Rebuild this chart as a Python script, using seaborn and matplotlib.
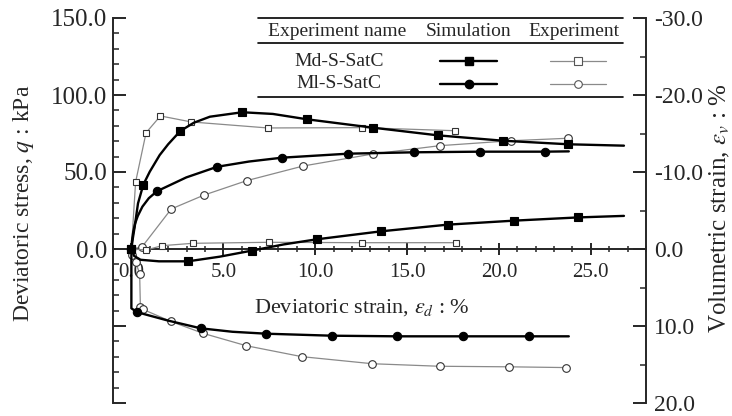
import matplotlib
matplotlib.use("Agg")
import matplotlib.pyplot as plt
from matplotlib.lines import Line2D
from matplotlib.ticker import MultipleLocator, FuncFormatter
import pandas as pd
import seaborn as sns

# ---------------- data ----------------
# Md-S-SatC, simulation: deviatoric stress q (kPa) vs deviatoric strain (%)
md_sim_q_x = [0.0, 0.08, 0.18, 0.36, 0.65, 1.0, 1.54, 2.0, 2.66, 3.4, 4.27, 6.03, 7.7, 9.57,
              13.13, 16.68, 20.23, 23.78, 26.8]
md_sim_q = [0.0, 7.0, 14.5, 29.6, 41.8, 50.2, 61.0, 68.0, 76.6, 82.0, 85.9, 88.8, 87.7, 84.2,
            78.8, 73.8, 70.3, 68.0, 67.1]
md_sim_q_marks = [0, 4, 8, 11, 13, 14, 15, 16, 17]

# Ml-S-SatC, simulation: deviatoric stress
ml_sim_q_x = [0.0, 0.03, 0.1, 0.2, 0.35, 0.6, 0.95, 1.39, 2.99, 4.67, 6.4, 8.2, 11.8, 15.4,
              18.97, 22.5, 23.8]
ml_sim_q = [0.0, 5.0, 11.0, 16.5, 21.5, 27.5, 33.0, 37.5, 46.5, 53.4, 56.8, 59.3, 61.9, 62.8,
            63.2, 63.2, 63.4]
ml_sim_q_marks = [0, 7, 9, 11, 12, 13, 14, 15]

# Md-S-SatC, simulation: volumetric strain (%)
md_sim_v_x = [0.0, 0.15, 0.5, 1.5, 3.08, 4.8, 6.58, 8.3, 10.09, 13.6, 17.2, 20.8, 24.3, 26.8]
md_sim_v = [0.0, 0.9, 1.4, 1.6, 1.6, 1.0, 0.2, -0.6, -1.26, -2.3, -3.16, -3.68, -4.1, -4.3]
md_sim_v_marks = [0, 4, 6, 8, 9, 10, 11, 12]

# Ml-S-SatC, simulation: volumetric strain
ml_sim_v_x = [0.0, 0.0, 0.3, 2.0, 3.77, 5.5, 7.34, 10.9, 14.47, 18.04, 21.63, 23.8]
ml_sim_v = [0.0, 7.7, 8.2, 9.3, 10.3, 10.75, 11.0, 11.26, 11.34, 11.34, 11.34, 11.34]
ml_sim_v_marks = [2, 4, 6, 7, 8, 9, 10]

# Md-S-SatC, experiment
md_exp_q_x = [0.0, 0.23, 0.8, 1.58, 3.26, 7.42, 12.55, 17.63]
md_exp_q = [0.0, 43.5, 75.5, 86.4, 82.5, 78.6, 78.8, 76.8]
md_exp_v_x = [0.0, 0.81, 1.66, 3.35, 7.48, 12.55, 17.66]
md_exp_v = [0.0, 0.13, -0.43, -0.74, -0.87, -0.82, -0.82]

# Ml-S-SatC, experiment
ml_exp_q_x = [0.0, 0.58, 2.17, 3.95, 6.28, 9.35, 13.13, 16.79, 20.65, 23.73]
ml_exp_q = [0.0, 1.4, 26.0, 35.0, 44.4, 53.9, 61.7, 67.1, 70.3, 71.9]
ml_exp_v_x = [0.0, 0.05, 0.23, 0.45, 0.49, 0.63, 2.14, 3.91, 6.25, 9.27, 13.11, 16.77, 20.54, 23.64]
ml_exp_v = [0.0, 0.78, 1.7, 3.2, 7.5, 7.84, 9.4, 10.96, 12.56, 13.98, 14.9, 15.23, 15.3, 15.4]

specimens = ["Md-S-SatC", "Ml-S-SatC"]
table_header = ["Experiment name", "Simulation", "Experiment"]

# ---------------- style ----------------
sns.set_style("ticks")
plt.rcParams["font.family"] = ["Liberation Serif", "DejaVu Serif"]
plt.rcParams["mathtext.fontset"] = "stix"

W, H = 732, 416
fig = plt.figure(figsize=(W / 100, H / 100), dpi=100)
fig.patch.set_facecolor("white")


def px(x, y):
    return x / W, 1 - y / H


x0, y0 = px(113, 403)
x1, y1 = px(646, 18)
ax = fig.add_axes([x0, y0, x1 - x0, y1 - y0])
ax2 = ax.twinx()
ax.set_facecolor("none")

SIM = dict(color="black", lw=1.7, sort=False, estimator=None,
           markeredgecolor="black", markeredgewidth=0.8, zorder=4)
EXP = dict(color="#8a8a8a", lw=0.9, sort=False, estimator=None,
           markerfacecolor="white", markeredgecolor="#333333",
           markeredgewidth=0.8, zorder=3)


def frame(x, y):
    return pd.DataFrame({"x": x, "y": y})


# experiments (thin grey lines, open markers)
sns.lineplot(data=frame(md_exp_q_x, md_exp_q), x="x", y="y", ax=ax, marker="s",
             markersize=5, markevery=list(range(1, len(md_exp_q))), **EXP)
sns.lineplot(data=frame(ml_exp_q_x, ml_exp_q), x="x", y="y", ax=ax, marker="o",
             markersize=5.5, markevery=list(range(1, len(ml_exp_q))), **EXP)
sns.lineplot(data=frame(md_exp_v_x, md_exp_v), x="x", y="y", ax=ax2, marker="s",
             markersize=5, markevery=list(range(1, len(md_exp_v))), **EXP)
sns.lineplot(data=frame(ml_exp_v_x, ml_exp_v), x="x", y="y", ax=ax2, marker="o",
             markersize=5.5, markevery=list(range(1, len(ml_exp_v))), **EXP)

# simulations (thick black lines, filled markers)
sns.lineplot(data=frame(md_sim_q_x, md_sim_q), x="x", y="y", ax=ax, marker="s",
             markersize=5.5, markevery=md_sim_q_marks, **SIM)
sns.lineplot(data=frame(ml_sim_q_x, ml_sim_q), x="x", y="y", ax=ax, marker="o",
             markersize=6, markevery=ml_sim_q_marks, **SIM)
sns.lineplot(data=frame(md_sim_v_x, md_sim_v), x="x", y="y", ax=ax2, marker="s",
             markersize=5.5, markevery=md_sim_v_marks, **SIM)
sns.lineplot(data=frame(ml_sim_v_x, ml_sim_v), x="x", y="y", ax=ax2, marker="o",
             markersize=6, markevery=ml_sim_v_marks, **SIM)

# ---------------- axes ----------------
ax.set_xlim(-1, 28)
ax.set_ylim(-100, 150)
ax2.set_ylim(20, -30)

SW = 1.4
for s in ("top", "right"):
    ax.spines[s].set_visible(False)
ax.spines["bottom"].set_position(("data", 0))
ax.spines["left"].set_linewidth(SW)
ax.spines["bottom"].set_linewidth(SW)
for s in ("top", "left", "bottom"):
    ax2.spines[s].set_visible(False)
ax2.spines["right"].set_linewidth(SW)

ax.xaxis.set_major_locator(MultipleLocator(5))
ax.xaxis.set_minor_locator(MultipleLocator(1))
ax.xaxis.set_major_formatter(FuncFormatter(lambda v, p: f"{v:.1f}"))
ax.yaxis.set_major_locator(MultipleLocator(50))
ax.yaxis.set_minor_locator(MultipleLocator(10))
ax.yaxis.set_major_formatter(FuncFormatter(lambda v, p: f"{v:.1f}" if v >= 0 else ""))
ax2.yaxis.set_major_locator(MultipleLocator(10))
ax2.yaxis.set_minor_locator(MultipleLocator(5))
ax2.yaxis.set_major_formatter(FuncFormatter(lambda v, p: f"{v + 0.0:.1f}"))

ax.tick_params(axis="x", which="major", direction="inout", length=9, width=SW,
               labelsize=15, pad=5.5)
ax.tick_params(axis="x", which="minor", direction="inout", length=5, width=1.1)
ax.tick_params(axis="y", which="major", direction="in", length=9.5, width=SW,
               labelsize=18, pad=4)
ax.tick_params(axis="y", which="minor", direction="in", length=4.5, width=1.1)
ax2.tick_params(axis="y", which="major", direction="in", length=9.5, width=SW,
                labelsize=17, pad=6)
ax2.tick_params(axis="y", which="minor", direction="in", length=4.5, width=1.1)

ax.set_xlabel(r"Deviatoric strain, $\varepsilon_d$ : %", fontsize=16)
ax.xaxis.set_label_coords(0.467, 0.249)
ax.xaxis.label.set_va("center")
ax.set_ylabel(r"Deviatoric stress, $q$ : kPa", fontsize=17)
ax.yaxis.set_label_coords(-0.167, 0.519)
ax.yaxis.label.set_va("center")
ax2.set_ylabel(r"Volumetric strain, $\varepsilon_v$ : %", fontsize=18)
ax2.yaxis.set_label_coords(1.139, 0.506)
ax2.yaxis.label.set_va("center")

# ---------------- key table ----------------
def hline(xa, xb, y, lw=1.2, color="black"):
    (fa, fy), (fb, _) = px(xa, y), px(xb, y)
    fig.add_artist(Line2D([fa, fb], [fy, fy], transform=fig.transFigure,
                          color=color, lw=lw))


hline(258, 623, 18)
hline(258, 623, 43)
hline(258, 623, 97)

for label, cx in zip(table_header, (337, 469, 574)):
    fig.text(*px(cx, 31), label, ha="center", va="center", fontsize=14)
for name, cy in zip(specimens, (61, 84)):
    fig.text(*px(339, cy), name, ha="center", va="center", fontsize=14)

for marker, cy in (("s", 61), ("o", 84)):
    fa, fy = px(440, cy)
    fb, _ = px(497, cy)
    fm, _ = px(469, cy)
    fig.add_artist(Line2D([fa, fb], [fy, fy], transform=fig.transFigure,
                          color="black", lw=1.7))
    fig.add_artist(Line2D([fm], [fy], transform=fig.transFigure, color="black",
                          marker=marker, markersize=6, markeredgecolor="black",
                          linestyle="none"))
    fa, fy = px(550, cy)
    fb, _ = px(606, cy)
    fm, _ = px(578, cy)
    fig.add_artist(Line2D([fa, fb], [fy, fy], transform=fig.transFigure,
                          color="#8a8a8a", lw=0.9))
    fig.add_artist(Line2D([fm], [fy], transform=fig.transFigure, marker=marker,
                          markersize=5.5, markerfacecolor="white",
                          markeredgecolor="#555555", markeredgewidth=0.8,
                          linestyle="none"))

fig.savefig("out.png", dpi=100, facecolor="white")
